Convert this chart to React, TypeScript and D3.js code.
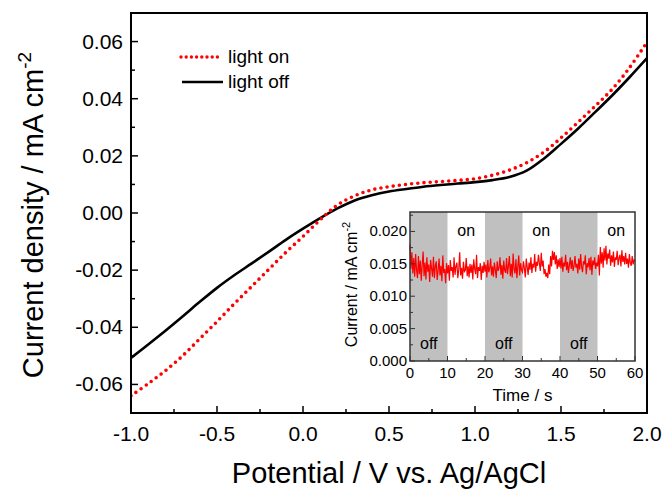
import React from 'react';
import * as d3 from 'd3';

// main LSV curves (potential in V vs Ag/AgCl, current density in mA cm-2)
const potential = [-1.0, -0.9, -0.8, -0.7, -0.6, -0.5, -0.4, -0.3, -0.2, -0.1, 0.0, 0.1, 0.2, 0.3, 0.4, 0.5, 0.6, 0.7, 0.8, 0.9, 1.0, 1.1, 1.2, 1.3, 1.4, 1.5, 1.6, 1.7, 1.8, 1.9, 2.0];
const currentOff = [-0.0507, -0.0460, -0.0412, -0.0362, -0.0311, -0.0262, -0.0218, -0.0177, -0.0136, -0.0094, -0.0055, -0.0018, 0.0016, 0.0044, 0.0062, 0.0075, 0.0084, 0.0092, 0.0098, 0.0103, 0.0108, 0.0115, 0.0126, 0.0148, 0.0190, 0.0242, 0.0296, 0.0354, 0.0413, 0.0476, 0.0542];
const currentOn = [-0.0640, -0.0597, -0.0552, -0.0500, -0.0440, -0.0380, -0.0318, -0.0258, -0.0198, -0.0138, -0.0082, -0.0024, 0.0028, 0.0060, 0.0081, 0.0092, 0.0100, 0.0106, 0.0110, 0.0114, 0.0120, 0.0132, 0.0150, 0.0176, 0.0213, 0.0263, 0.0318, 0.0375, 0.0435, 0.0510, 0.0598];

const xTicks = [-1.0, -0.5, 0.0, 0.5, 1.0, 1.5, 2.0];
const yTicks = [-0.06, -0.04, -0.02, 0.0, 0.02, 0.04, 0.06];

// inset chopped-light transient, sampled every 0.25 s (values in µA cm-2)
const insetCurrent = [
  18.0, 14.2, 16.8, 13.5, 15.9, 13.0, 16.5, 14.0,
  12.8, 16.2, 13.4, 15.5, 12.4, 14.8, 16.9, 13.1,
  15.2, 12.6, 16.0, 13.8, 14.9, 12.2, 15.6, 14.3,
  13.0, 16.1, 12.8, 14.6, 15.4, 12.5, 14.0, 15.8,
  13.2, 14.7, 12.3, 16.3, 13.6, 14.2, 12.0, 15.1,
  13.5, 14.8, 12.4, 15.6, 13.9, 14.5, 12.9, 16.0,
  13.3, 14.6, 15.2, 12.8, 14.1, 16.8, 13.2, 14.4,
  12.7, 15.3, 13.8, 14.0, 15.9, 13.1, 14.6, 12.9,
  15.0, 13.6, 14.9, 12.6, 15.7, 14.2, 13.4, 16.4,
  12.8, 14.5, 13.9, 15.1, 12.5, 14.7, 13.6, 15.3,
  13.8, 14.9, 12.9, 15.6, 13.7, 14.3, 15.8, 13.2,
  14.6, 13.0, 15.2, 14.1, 12.8, 15.4, 13.9, 14.4,
  16.0, 13.3, 14.8, 12.7, 15.5, 14.0, 13.6, 15.9,
  13.4, 14.7, 16.2, 13.1, 15.0, 12.9, 16.6, 14.2,
  13.5, 15.7, 12.8, 14.6, 16.3, 13.2, 15.1, 14.0,
  13.7, 15.4, 14.3, 12.9, 15.8, 14.5, 13.3, 15.2,
  14.1, 16.0, 13.6, 15.0, 14.4, 16.5, 13.8, 15.3,
  14.7, 16.4, 15.1, 13.9, 16.7, 14.6, 15.5, 13.4,
  14.2, 13.0, 13.6, 12.8, 14.9, 13.4, 16.2, 14.6,
  17.0, 15.6, 16.8, 14.9, 16.3, 14.2, 15.7, 14.5,
  15.9, 14.3, 16.1, 13.8, 15.2, 14.6, 16.4, 14.0,
  15.3, 13.6, 14.8, 16.0, 14.2, 15.6, 13.9, 14.7,
  16.2, 14.4, 15.0, 13.5, 15.8, 14.1, 16.5, 14.6,
  13.7, 15.4, 14.9, 16.3, 13.4, 15.1, 14.5, 15.9,
  14.0, 16.1, 13.3, 15.5, 14.8, 16.0, 14.2, 15.2,
  14.6, 16.4, 13.2, 17.6, 15.0, 16.8, 14.4, 17.4,
  15.5, 17.8, 14.9, 16.6, 15.8, 17.2, 14.7, 16.3,
  15.2, 16.9, 14.5, 16.0, 15.6, 17.0, 14.8, 15.9,
  16.4, 14.6, 17.1, 15.3, 16.2, 14.9, 16.7, 15.0,
  15.8, 14.4, 16.5, 15.1, 14.7, 16.2, 14.9, 15.6, 15.4,
];
const insetStep = 0.25;
const lightPhases = [
  { start: 0, end: 10, label: 'off' },
  { start: 10, end: 20, label: 'on' },
  { start: 20, end: 30, label: 'off' },
  { start: 30, end: 40, label: 'on' },
  { start: 40, end: 50, label: 'off' },
  { start: 50, end: 60, label: 'on' },
];
const insetXTicks = [0, 10, 20, 30, 40, 50, 60];
const insetYTicks = [0.0, 0.005, 0.01, 0.015, 0.02];

const W = 665;
const H = 491;
const FONT = '"Liberation Sans", Arial, sans-serif';

export default function App() {
  const x = d3.scaleLinear().domain([-1, 2]).range([131, 647]);
  const y = d3.scaleLinear().domain([-0.07, 0.07]).range([413, 13]);
  const [x0, x1] = x.range();
  const [y0, y1] = y.range();

  const ix = d3.scaleLinear().domain([0, 60]).range([410, 635]);
  const iy = d3.scaleLinear().domain([0, 0.023]).range([361, 212]);
  const [ix0, ix1] = ix.range();
  const [iy0, iy1] = iy.range();

  const line = d3.line<number>()
    .x((_, i) => x(potential[i]))
    .y(d => y(d))
    .curve(d3.curveCatmullRom.alpha(0.5));

  const insetLine = d3.line<number>()
    .x((_, i) => ix(i * insetStep))
    .y(d => iy(d / 1000));

  const xMinor = d3.range(-1, 2.001, 0.25).filter(v => !xTicks.some(t => Math.abs(t - v) < 1e-6));
  const yMinor = d3.range(-0.07, 0.0701, 0.01).filter(v => !yTicks.some(t => Math.abs(t - v) < 1e-6));
  const ixMinor = d3.range(5, 60, 10);
  const iyMinor = d3.range(0.0025, 0.023, 0.005);

  return (
    <div style={{ position: 'absolute', left: 0, top: 0 }}>
      <svg width={W} height={H} style={{ display: 'block', background: '#fff' }} fontFamily={FONT}>
        <defs>
          <clipPath id="plotClip">
            <rect x={x0} y={y1} width={x1 - x0} height={y0 - y1} />
          </clipPath>
        </defs>

        {/* main curves */}
        <g clipPath="url(#plotClip)">
          <path d={line(currentOff) || ''} fill="none" stroke="#000" strokeWidth={2.6} />
          <path d={line(currentOn) || ''} fill="none" stroke="#ff0000" strokeWidth={3.6}
            strokeDasharray="0 6.2" strokeLinecap="round" />
        </g>

        {/* main axes ticks (inward) */}
        {xTicks.map(t => (
          <g key={'xt' + t}>
            <line x1={x(t)} x2={x(t)} y1={y0} y2={y0 - 7} stroke="#000" strokeWidth={1.5} />
            <text x={x(t)} y={y0 + 28} fontSize={21} textAnchor="middle">{t.toFixed(1)}</text>
          </g>
        ))}
        {xMinor.map(t => (
          <line key={'xm' + t} x1={x(t)} x2={x(t)} y1={y0} y2={y0 - 4} stroke="#000" strokeWidth={1.5} />
        ))}
        {yTicks.map(t => (
          <g key={'yt' + t}>
            <line x1={x0} x2={x0 + 7} y1={y(t)} y2={y(t)} stroke="#000" strokeWidth={1.5} />
            <text x={x0 - 8} y={y(t) + 7} fontSize={21} textAnchor="end">{t.toFixed(2)}</text>
          </g>
        ))}
        {yMinor.map(t => (
          <line key={'ym' + t} x1={x0} x2={x0 + 4} y1={y(t)} y2={y(t)} stroke="#000" strokeWidth={1.5} />
        ))}
        <rect x={x0} y={y1} width={x1 - x0} height={y0 - y1} fill="none" stroke="#000" strokeWidth={2} />

        {/* axis titles */}
        <text x={(x0 + x1) / 2} y={483} fontSize={29} textAnchor="middle">Potential / V vs. Ag/AgCl</text>
        <text transform={`translate(43,${(y0 + y1) / 2 + 2}) rotate(-90)`} fontSize={29} textAnchor="middle">
          Current density / mA cm<tspan fontSize={19} dy={-12}>-2</tspan>
        </text>

        {/* legend */}
        <line x1={181} x2={222} y1={57} y2={57} stroke="#ff0000" strokeWidth={3.4} strokeDasharray="0 5.2" strokeLinecap="round" />
        <text x={228} y={63} fontSize={19}>light on</text>
        <line x1={182} x2={223} y1={82} y2={82} stroke="#000" strokeWidth={2.6} />
        <text x={228} y={88} fontSize={19}>light off</text>

        {/* inset */}
        <rect x={ix0} y={iy1} width={ix1 - ix0} height={iy0 - iy1} fill="#fff" />
        {lightPhases.filter(p => p.label === 'off').map(p => (
          <rect key={'ph' + p.start} x={ix(p.start)} y={iy1} width={ix(p.end) - ix(p.start)} height={iy0 - iy1} fill="#c0c0c0" />
        ))}
        {lightPhases.map(p => (
          <text key={'pl' + p.start} x={ix((p.start + p.end) / 2)} y={p.label === 'on' ? 236 : 349}
            fontSize={16} textAnchor="middle">{p.label}</text>
        ))}
        <path d={insetLine(insetCurrent) || ''} fill="none" stroke="#ff0000" strokeWidth={1.2} />

        {insetXTicks.map(t => (
          <g key={'ixt' + t}>
            <line x1={ix(t)} x2={ix(t)} y1={iy0} y2={iy0 - 5} stroke="#333" strokeWidth={1} />
            <text x={ix(t)} y={iy0 + 17} fontSize={15} textAnchor="middle">{t}</text>
          </g>
        ))}
        {ixMinor.map(t => (
          <line key={'ixm' + t} x1={ix(t)} x2={ix(t)} y1={iy0} y2={iy0 - 3} stroke="#333" strokeWidth={1} />
        ))}
        {insetYTicks.map(t => (
          <g key={'iyt' + t}>
            <line x1={ix0} x2={ix0 + 5} y1={iy(t)} y2={iy(t)} stroke="#333" strokeWidth={1} />
            <text x={ix0 - 3} y={iy(t) + 5} fontSize={15} textAnchor="end">{t.toFixed(3)}</text>
          </g>
        ))}
        {iyMinor.map(t => (
          <line key={'iym' + t} x1={ix0} x2={ix0 + 3} y1={iy(t)} y2={iy(t)} stroke="#333" strokeWidth={1} />
        ))}
        <rect x={ix0} y={iy1} width={ix1 - ix0} height={iy0 - iy1} fill="none" stroke="#333" strokeWidth={1.5} />
        <text x={(ix0 + ix1) / 2} y={401} fontSize={17} textAnchor="middle">Time / s</text>
        <text transform={`translate(357,${(iy0 + iy1) / 2 - 2}) rotate(-90)`} fontSize={16} textAnchor="middle">
          Current / mA cm<tspan fontSize={11} dy={-7}>-2</tspan>
        </text>
      </svg>
    </div>
  );
}
